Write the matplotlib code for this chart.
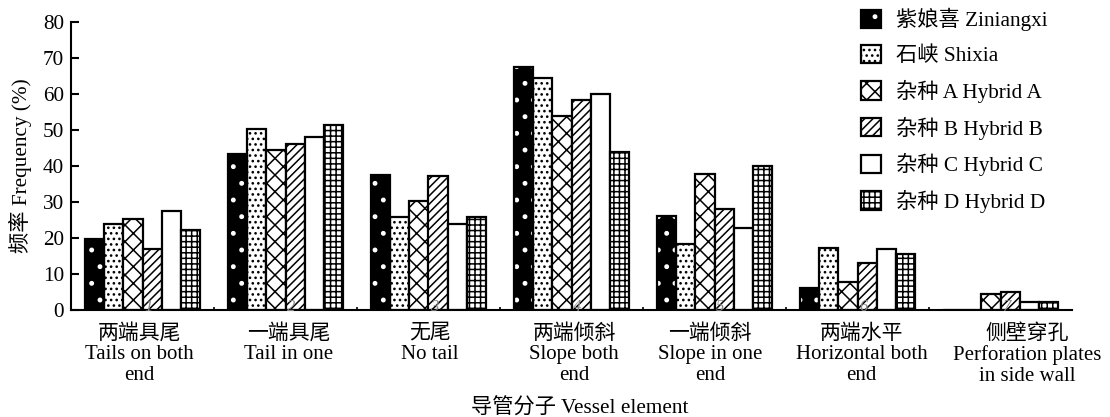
import matplotlib
matplotlib.use("Agg")
import matplotlib.pyplot as plt
import numpy as np
from matplotlib.legend_handler import HandlerTuple
from matplotlib.patches import Rectangle

plt.rcParams['font.family'] = ['Liberation Serif', 'Noto Sans CJK SC']
plt.rcParams['hatch.linewidth'] = 1.1

categories = ["两端具尾\nTails on both\nend", "一端具尾\nTail in one", "无尾\nNo tail",
              "两端倾斜\nSlope both\nend", "一端倾斜\nSlope in one\nend",
              "两端水平\nHorizontal both\nend", "侧壁穿孔\nPerforation plates\nin side wall"]
numbers = ["1", "2", "3", "4", "5", "6", "7"]
series_names = ["紫娘喜 Ziniangxi", "石峡 Shixia", "杂种 A Hybrid A",
                "杂种 B Hybrid B", "杂种 C Hybrid C", "杂种 D Hybrid D"]
ziniangxi = [19.6, 43.3, 37.5, 67.5, 26.0, 6.0, 0.0]
shixia = [23.8, 50.3, 25.8, 64.3, 18.2, 17.3, 0.0]
hybrid_a = [25.3, 44.3, 30.2, 53.9, 37.8, 7.9, 4.4]
hybrid_b = [16.8, 46.0, 37.3, 58.4, 28.0, 13.0, 4.9]
hybrid_c = [27.6, 48.1, 23.8, 59.8, 22.8, 16.8, 2.1]
hybrid_d = [22.2, 51.3, 25.9, 43.8, 40.0, 15.5, 2.1]
series = [ziniangxi, shixia, hybrid_a, hybrid_b, hybrid_c, hybrid_d]
hatches = ['.', '...', 'xx', '////', '', '+++']

FS = 15.0
fig = plt.figure(figsize=(11.1, 4.17), dpi=100)
W, H = 1110, 417
ax = fig.add_axes([71 / W, 1 - 310 / H, (1072 - 71) / W, (310 - 21.7) / H])

x = np.arange(len(categories))
w = 0.1343
lw = 1.6
handles = []
for k, (vals, ht) in enumerate(zip(series, hatches)):
    pos = x + (k - 2.5) * w
    if k == 0:
        ax.bar(pos, vals, w, color='black', edgecolor='white', hatch=ht, linewidth=0, zorder=2)
        ax.bar(pos, vals, w, fill=False, edgecolor='black', linewidth=lw, zorder=2.1)
        h1 = Rectangle((0, 0), 1, 1, facecolor='black', edgecolor='white', hatch=ht, linewidth=0)
        h2 = Rectangle((0, 0), 1, 1, fill=False, edgecolor='black', linewidth=lw)
        handles.append((h1, h2))
    else:
        ax.bar(pos, vals, w, color='white', edgecolor='black', hatch=ht, linewidth=lw, zorder=2)
        handles.append(Rectangle((0, 0), 1, 1, facecolor='white', edgecolor='black',
                                 hatch=ht, linewidth=lw))

for i, n in enumerate(numbers):
    ax.text(i + 0.04, 0.8, n, ha='center', va='center', fontsize=12, color='#888888',
            style='italic', zorder=3)

# category labels (last one nudged right as in the reference)
label_shift = [-0.02, 0.02, 0.01, 0.02, -0.03, 0.03, 0.19]
for i, lab in enumerate(categories):
    ax.annotate(lab, xy=(i + label_shift[i], 0), xycoords=('data', 'axes fraction'),
                xytext=(0, -10), textcoords='offset points', ha='center', va='top',
                fontsize=FS, linespacing=1.12, annotation_clip=False)

ax.set_xlim(-0.5, 6.5)
ax.set_ylim(0, 80)
ax.set_yticks(np.arange(0, 81, 10))
ax.tick_params(axis='y', direction='in', length=6, width=1.5, labelsize=15.3, pad=5)
ax.set_xticks([])
ax.set_xticks(x[:-1] + 0.5, minor=True)
ax.tick_params(axis='x', which='minor', direction='in', length=2.5, width=1.2, labelbottom=False)
for s in ['top', 'right']:
    ax.spines[s].set_visible(False)
for s in ['left', 'bottom']:
    ax.spines[s].set_linewidth(1.5)

fig.text(20 / W, 1 - 166 / H, "频率 Frequency (%)", rotation=90, ha='center', va='center', fontsize=15.3)
fig.text(580 / W, 1 - 409 / H, "导管分子 Vessel element", ha='center', va='center', fontsize=15.3)

leg = fig.legend(handles, series_names, loc='upper left',
                 bbox_to_anchor=(861 / W, 1 - 8 / H), frameon=False, fontsize=15.3,
                 handlelength=0.95, handleheight=0.95, handletextpad=0.7,
                 labelspacing=0.64, borderpad=0, borderaxespad=0,
                 handler_map={tuple: HandlerTuple(ndivide=1, pad=0)})

fig.savefig("out.png", dpi=100)
